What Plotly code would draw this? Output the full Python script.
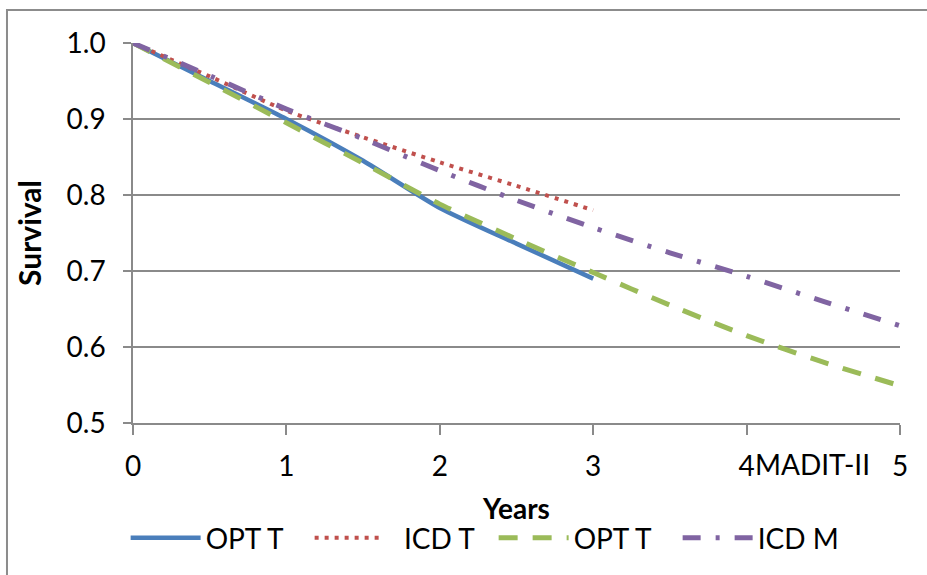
import plotly.graph_objects as go

# Survival estimates by year of follow-up
years_3 = [0, 0.5, 1, 1.5, 2, 2.5, 3]
years_5 = [0, 0.5, 1, 1.5, 2, 2.5, 3, 3.5, 4, 4.5, 5]

opt_t_observed = [1.0, 0.95, 0.90, 0.845, 0.783, 0.736, 0.69]
icd_t_observed = [1.0, 0.956, 0.911, 0.876, 0.843, 0.812, 0.78]
opt_t_projected = [1.0, 0.948, 0.895, 0.842, 0.788, 0.742, 0.698, 0.655, 0.615, 0.58, 0.549]
icd_m_projected = [1.0, 0.957, 0.913, 0.874, 0.832, 0.793, 0.757, 0.724, 0.693, 0.66, 0.628]

x_ticks = [0, 1, 2, 3, 4, 5]
y_ticks = [0.5, 0.6, 0.7, 0.8, 0.9, 1.0]
y_tick_text = ["0.5", "0.6", "0.7", "0.8", "0.9", "1.0"]

FONT = "Lato"
GRID = "#8a8a8a"
NBSP = "\u00a0"

fig = go.Figure()
fig.add_trace(go.Scatter(x=years_3, y=opt_t_observed, mode="lines", name="OPT T",
                         line=dict(color="#4a7ebb", width=4.5, shape="spline", smoothing=0.6)))
fig.add_trace(go.Scatter(x=years_3, y=icd_t_observed, mode="lines", name=NBSP * 2 + "ICD T",
                         line=dict(color="#c0504d", width=4, dash="4px,6px", shape="spline", smoothing=0.6)))
fig.add_trace(go.Scatter(x=years_5, y=opt_t_projected, mode="lines", name="OPT T",
                         line=dict(color="#9bbb59", width=5, dash="19px,15px", shape="spline", smoothing=0.6)))
fig.add_trace(go.Scatter(x=years_5, y=icd_m_projected, mode="lines", name="ICD M",
                         line=dict(color="#8064a2", width=5, dash="18px,15px,4px,15px", shape="spline", smoothing=0.6)))

fig.update_layout(
    width=927, height=575,
    margin=dict(l=133, r=27, t=43, b=152, autoexpand=False),
    paper_bgcolor="white", plot_bgcolor="white",
    font=dict(family=FONT, size=28, color="black"),
    showlegend=True,
    legend=dict(orientation="h", x=-0.0096, xanchor="left", y=-0.303, yanchor="middle",
                font=dict(family=FONT, size=28, color="black"),
                itemwidth=70, entrywidth=99, entrywidthmode="pixels",
                bgcolor="rgba(0,0,0,0)", traceorder="normal"),
    xaxis=dict(range=[0, 5], tickvals=x_ticks, ticktext=[str(v) for v in x_ticks],
               showgrid=False, zeroline=False, showline=True, linecolor=GRID, linewidth=1.5,
               ticks="outside", ticklen=10, tickcolor=GRID, tickwidth=1.5,
               ticklabelstandoff=8,
               tickfont=dict(family=FONT, size=28, color="black"),
               title=dict(text="<b>Years</b>", font=dict(family=FONT, size=28, color="black"), standoff=18)),
    yaxis=dict(range=[0.5, 1.0], tickvals=y_ticks, ticktext=y_tick_text,
               showgrid=True, gridcolor=GRID, gridwidth=1.5, zeroline=False,
               showline=True, linecolor=GRID, linewidth=1.5,
               ticks="outside", ticklen=8, tickcolor=GRID, tickwidth=1.5,
               ticklabelstandoff=12,
               tickfont=dict(family=FONT, size=28, color="black"),
               title=dict(text="<b>Survival</b>", font=dict(family=FONT, size=30, color="black"), standoff=16)),
    shapes=[dict(type="rect", xref="paper", yref="paper", x0=-0.1643, y0=-0.6, x1=1.1, y1=1.0868,
                 line=dict(color="#8c8c8c", width=2), fillcolor="rgba(0,0,0,0)", layer="below")],
    annotations=[dict(text="MADIT-II", xref="x", yref="paper", x=4, y=-0.108, xanchor="left",
                      yanchor="middle", xshift=6, showarrow=False,
                      font=dict(family=FONT, size=28, color="black"))],
)

fig.write_html("out.html")
